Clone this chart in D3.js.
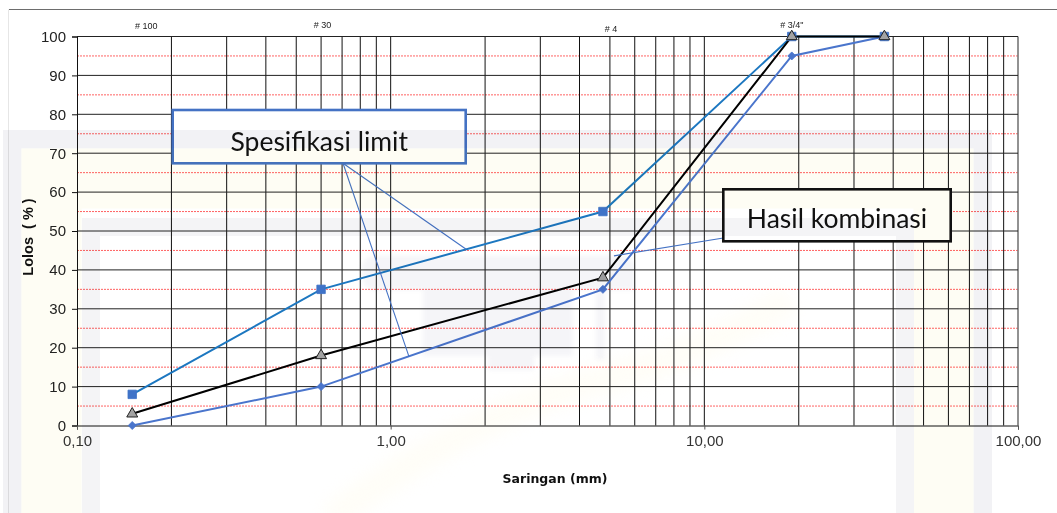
<!DOCTYPE html>
<html>
<head>
<meta charset="utf-8">
<script src="https://cdn.jsdelivr.net/npm/d3@7/dist/d3.min.js"></script>
<style>
  html, body { margin: 0; padding: 0; background: #fff; }
  svg { display: block; }
  text { white-space: pre; }
</style>
</head>
<body>
<svg id="chart" width="1057" height="513"></svg>
<script>
// Sieve analysis: gradation of the combined aggregate against the specification limits
const sieveSizes = [0.15, 0.6, 4.75, 19, 37.5];      // mm
const specUpper  = [8, 35, 55, 100, 100];            // % passing, upper limit
const specLower  = [0, 10, 35, 95, 100];             // % passing, lower limit
const combined   = [3, 18, 38, 100, 100];            // % passing, combined result

const sieveNames   = ["# 100", "# 30", "# 4", "# 3/4\""];
const sieveNameMm  = [0.15, 0.6, 4.75, 19];
const xTickValues  = [0.1, 1, 10, 100];
const yTickValues  = [0, 10, 20, 30, 40, 50, 60, 70, 80, 90, 100];
const yMinorValues = [5, 15, 25, 35, 45, 55, 65, 75, 85, 95];

const svg = d3.select("#chart");
const W = 1057, H = 513;
const plot = { left: 77, right: 1018, top: 36.5, bottom: 425.5 };

const x = d3.scaleLog().domain([0.1, 100]).range([plot.left, plot.right]);
const y = d3.scaleLinear().domain([0, 100]).range([plot.bottom, plot.top]);
const fmt = d3.format(".2f");
const commaFmt = v => fmt(v).replace(".", ",");

// outer frame of the chart object
svg.append("line").attr("x1", 9).attr("x2", W).attr("y1", 9.5).attr("y2", 9.5)
  .attr("stroke", "#6d6d6d").attr("stroke-width", 1);
svg.append("line").attr("x1", 8.5).attr("x2", 8.5).attr("y1", 9.5).attr("y2", H)
  .attr("stroke", "#e6e6e6").attr("stroke-width", 1);

// minor (every 5 %) red grid
svg.append("g").selectAll("line").data(yMinorValues).join("line")
  .attr("x1", plot.left).attr("x2", plot.right)
  .attr("y1", d => y(d)).attr("y2", d => y(d))
  .attr("stroke", "#ff2020").attr("stroke-width", 1)
  .attr("stroke-dasharray", "2,1").attr("opacity", 0.7);

// vertical log grid: 1..9 in each decade
const logTicks = x.ticks(30).filter(v => v > 0.1 + 1e-9);
svg.append("g").selectAll("line").data(logTicks).join("line")
  .attr("x1", d => x(d)).attr("x2", d => x(d))
  .attr("y1", plot.top).attr("y2", plot.bottom)
  .attr("stroke", d => (d === 100 ? "#777" : "#111")).attr("stroke-width", d => (d === 100 ? 1.6 : 1));

// horizontal major grid
svg.append("g").selectAll("line").data(yTickValues.filter(v => v > 0)).join("line")
  .attr("x1", plot.left).attr("x2", plot.right)
  .attr("y1", d => y(d)).attr("y2", d => y(d))
  .attr("stroke", "#222").attr("stroke-width", 1);

// axes
const yAxis = svg.append("g").attr("transform", `translate(${plot.left},0)`)
  .call(d3.axisLeft(y).tickValues(yTickValues).tickSize(5).tickPadding(6));
yAxis.select(".domain").attr("stroke", "#111");
yAxis.selectAll(".tick line").attr("stroke", "#111");
yAxis.selectAll("text").attr("font-family", "Liberation Sans, Arial, sans-serif")
  .attr("font-size", 15).attr("fill", "#222");

const xAxis = svg.append("g").attr("transform", `translate(0,${plot.bottom})`)
  .call(d3.axisBottom(x).tickValues(xTickValues).tickFormat(commaFmt).tickSize(4).tickPadding(6));
xAxis.select(".domain").attr("stroke", "#111");
xAxis.selectAll(".tick line").attr("stroke", "#555");
xAxis.selectAll("text").attr("font-family", "Liberation Sans, Arial, sans-serif")
  .attr("font-size", 15).attr("fill", "#333");

// axis titles
svg.append("text")
  .attr("transform", `translate(33,237) rotate(-90)`)
  .attr("text-anchor", "middle")
  .attr("font-family", "Liberation Sans, Arial, sans-serif")
  .attr("font-weight", "bold").attr("font-size", 14.5).attr("fill", "#111")
  .text("Lolos  ( % )");
svg.append("text")
  .attr("x", 555).attr("y", 483).attr("text-anchor", "middle")
  .attr("font-family", "DejaVu Sans, Verdana, sans-serif")
  .attr("font-weight", "bold").attr("font-size", 12.5).attr("fill", "#111")
  .text("Saringan (mm)");

// sieve number labels above the plot
const sieveNameShift = [[14, -7.5], [1.5, -8.5], [8, -4.5], [0, -8.5]];
svg.append("g").selectAll("text").data(sieveNames).join("text")
  .attr("x", (d, i) => x(sieveNameMm[i]) + sieveNameShift[i][0])
  .attr("y", (d, i) => plot.top + sieveNameShift[i][1])
  .attr("text-anchor", "middle")
  .attr("font-family", "Liberation Sans, Arial, sans-serif")
  .attr("font-size", 9).attr("fill", "#222")
  .text(d => d);

// series
const series = [
  { name: "upper", values: specUpper, line: "#1c77c0", marker: "square", fill: "#3f73c8", stroke: "#3f73c8" },
  { name: "lower", values: specLower, line: "#4a75cc", marker: "diamond", fill: "#4a75cc", stroke: "#4a75cc" },
  { name: "combined", values: combined, line: "#000", marker: "triangle", fill: "#a3a3a3", stroke: "#222" }
];
const lineGen = d3.line().x(d => x(d[0])).y(d => y(d[1]));
series.forEach(s => {
  const pts = sieveSizes.map((m, i) => [m, s.values[i]]);
  svg.append("path").datum(pts)
    .attr("d", lineGen).attr("fill", "none")
    .attr("stroke", s.line).attr("stroke-width", 2);
});
// markers drawn after all lines
const symbolType = { square: d3.symbolSquare, diamond: d3.symbolSquare, triangle: d3.symbolTriangle };
const symbolSize = { square: 72, diamond: 32, triangle: 52 };
const symbolRot  = { square: 0, diamond: 45, triangle: 0 };
series.forEach(s => {
  const pts = sieveSizes.map((m, i) => [m, s.values[i]]);
  svg.append("g").selectAll("path").data(pts).join("path")
    .attr("transform", d => `translate(${x(d[0])},${y(d[1])}) rotate(${symbolRot[s.marker]})`)
    .attr("d", d3.symbol().type(symbolType[s.marker]).size(symbolSize[s.marker]))
    .attr("fill", s.fill).attr("stroke", s.stroke).attr("stroke-width", s.marker === "triangle" ? 1 : 0.8);
});

// callout annotations
const callouts = [
  { text: "Spesifikasi limit", box: [172.7, 110, 293, 53.3], border: "#4472c4",
    from: [343, 163.3], targets: [[1.74, 45.3], [1.144, 17.7]], baseline: 151 },
  { text: "Hasil kombinasi", box: [723.3, 189.3, 227.4, 52], border: "#111",
    from: [723.3, 238], targets: [[5.15, 43.6]], baseline: 228 }
];
callouts.forEach(c => {
  c.targets.forEach(t => {
    svg.append("line")
      .attr("x1", c.from[0]).attr("y1", c.from[1])
      .attr("x2", x(t[0])).attr("y2", y(t[1]))
      .attr("stroke", "#4472c4").attr("stroke-width", 1.1);
  });
  svg.append("rect")
    .attr("x", c.box[0]).attr("y", c.box[1]).attr("width", c.box[2]).attr("height", c.box[3])
    .attr("fill", "#fff").attr("stroke", c.border).attr("stroke-width", 2.6);
  svg.append("text")
    .attr("x", c.box[0] + c.box[2] / 2).attr("y", c.baseline)
    .attr("text-anchor", "middle")
    .attr("font-family", "Lato, Open Sans, sans-serif")
    .attr("font-size", 26.5).attr("fill", "#111")
    .text(c.text);
});

// faint background logo (blended on top)
const defs = svg.append("defs");
defs.append("filter").attr("id", "soft").attr("color-interpolation-filters", "sRGB")
  .append("feGaussianBlur").attr("stdDeviation", 2);
defs.append("filter").attr("id", "softer").attr("color-interpolation-filters", "sRGB")
  .attr("x", "-20%").attr("y", "-20%").attr("width", "140%").attr("height", "140%")
  .append("feGaussianBlur").attr("stdDeviation", 8);
const wm = svg.append("g").style("mix-blend-mode", "multiply").attr("pointer-events", "none");
function frame(g, o, t, color) {
  // o = [x0, y0, x1], open at the bottom
  const [x0, y0, x1] = o;
  g.append("path")
    .attr("d", `M${x0},${H}V${y0}H${x1}V${H}H${x1 - t}V${y0 + t}H${x0 + t}V${H}Z`)
    .attr("fill", color);
}
frame(wm, [3, 130, 992], 18.5, "#f2f2f5");
frame(wm, [21.5, 148.5, 973.5], 60, "#fefdf4");
frame(wm, [82, 218, 914], 18, "#f4f4f6");
const logo = wm.append("g").attr("filter", "url(#soft)").attr("fill", "#f5f5f8");
logo.append("path")
  .attr("d", "M376,256H620Q634,256 634,270V290H605V360H596V290H573V356H534V370H488V356H423V290H376Q362,290 362,276V270Q362,256 376,256Z");
wm.append("path")
  .attr("d", "M330,520 C420,450 520,400 600,380 C680,360 740,330 790,300")
  .attr("fill", "none").attr("stroke", "#fffcf0").attr("stroke-width", 30)
  .attr("filter", "url(#softer)").attr("opacity", 0.5);
</script>
</body>
</html>
